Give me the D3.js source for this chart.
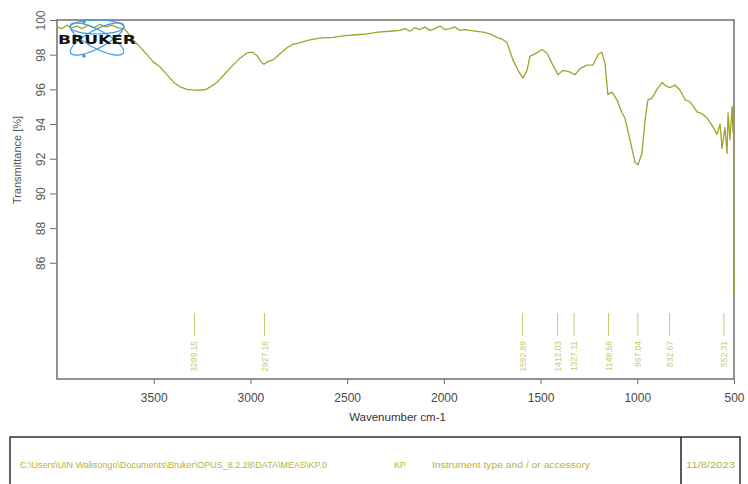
<!DOCTYPE html>
<html><head><meta charset="utf-8">
<script src="https://cdn.jsdelivr.net/npm/d3@7"></script>
<style>html,body{margin:0;padding:0;background:#fff;}svg{display:block;font-family:"Liberation Sans",Arial,sans-serif;}</style>
</head><body>
<svg id="c" width="748" height="484"></svg>
<script>
// Spectrum: [wavenumber cm-1, transmittance %]
const wavenumbers = [4000,3975,3949,3923,3897,3871,3840,3809,3778,3747,3716,3685,3654,3633,3602,3571,3535,3504,3468,3432,3396,3364,3328,3297,3261,3230,3199,3173,3132,3090,3054,3018,2992,2966,2946,2930,2910,2884,2847,2811,2780,2744,2692,2641,2573,2511,2449,2398,2341,2279,2227,2201,2175,2149,2124,2098,2072,2046,2020,1994,1968,1943,1917,1891,1865,1829,1798,1762,1725,1700,1674,1658,1643,1617,1591,1570,1555,1519,1493,1467,1441,1410,1384,1364,1348,1322,1296,1260,1229,1203,1183,1167,1152,1131,1105,1079,1064,1038,1012,996,976,960,945,924,898,872,852,831,805,779,753,728,691,665,640,609,588,572,562,547,536,531,521,510,505,502.5,500];
const transmittance = [99.6,99.5,99.7,99.55,99.65,99.5,99.7,99.55,99.75,99.6,99.7,99.55,99.5,99.25,98.8,98.45,98.0,97.6,97.3,96.85,96.4,96.15,96.0,95.97,95.95,96.0,96.2,96.4,96.9,97.4,97.8,98.1,98.15,97.95,97.6,97.45,97.6,97.7,98.05,98.4,98.6,98.7,98.85,98.95,99.0,99.1,99.15,99.2,99.3,99.35,99.4,99.5,99.35,99.55,99.45,99.6,99.4,99.5,99.65,99.45,99.5,99.6,99.4,99.45,99.4,99.35,99.3,99.2,99.0,98.9,98.7,98.2,97.7,97.1,96.65,97.1,97.9,98.1,98.3,98.1,97.5,96.85,97.1,97.05,97.0,96.85,97.2,97.4,97.4,98.0,98.15,97.5,95.7,95.85,95.4,94.65,94.35,93.1,91.8,91.65,92.3,94.2,95.4,95.5,96.0,96.4,96.2,96.1,96.25,95.95,95.4,95.3,94.7,94.6,94.35,93.85,93.4,94.0,92.6,93.8,92.3,94.65,93.1,95.0,93.5,95.0,84.2];
const xTicks = [3500,3000,2500,2000,1500,1000,500];
const yTicks = [100,98,96,94,92,90,88,86];
const peaks = [3289.15,2927.16,1592.89,1412.03,1327.11,1148.58,997.04,832.67,552.31];
const peakLabels = ["3289.15","2927.16","1592.89","1412.03","1327.11","1148.58","997.04","832.67","552.31"];
const footerTexts = ["C:\\Users\\UIN Walisongo\\Documents\\Bruker\\OPUS_8.2.28\\DATA\\MEAS\\KP.0","KP","Instrument type and / or accessory","11/8/2023"];

const svg = d3.select("#c");
const L=57,R=734,T=20,B=379;
const x = d3.scaleLinear().domain([4000,500]).range([L,R]);
const y = d3.scaleLinear().domain([79.3,100]).range([B,T]);

const axisCol="#6f6f6f", textCol="#4a4a4a";
const lineCol="#a3a02c", peakCol="#cbc96a", footCol="#b8b23a";

// x axis
const gx = svg.append("g").attr("transform",`translate(0,${B})`)
  .call(d3.axisBottom(x).tickValues(xTicks).tickSize(5).tickSizeOuter(0).tickFormat(d3.format("d")));
gx.select(".domain").remove();
gx.selectAll(".tick line").attr("stroke",axisCol);
gx.selectAll(".tick text").attr("fill",textCol).attr("font-size",12).attr("dy","1.25em")
  .attr("font-family","Liberation Sans, Arial, sans-serif");

// y axis
const gy = svg.append("g").attr("transform",`translate(${L},0)`)
  .call(d3.axisLeft(y).tickValues(yTicks).tickSize(7).tickSizeOuter(0));
gy.select(".domain").remove();
gy.selectAll(".tick line").attr("stroke",axisCol);
gy.selectAll(".tick text").attr("fill","#5a5a5a").attr("font-size",12)
  .attr("font-family","Liberation Sans, Arial, sans-serif")
  .attr("x",null).attr("dy",null)
  .attr("text-anchor","middle")
  .attr("transform","translate(-16,0) rotate(-90)")
  .attr("y",4);

// frame
svg.append("rect").attr("x",L).attr("y",T).attr("width",R-L).attr("height",B-T)
  .attr("fill","none").attr("stroke",axisCol).attr("stroke-width",1.5);

// axis titles
svg.append("text").attr("x",(L+R)/2+2).attr("y",421).attr("text-anchor","middle")
  .attr("font-size",11.5).attr("fill","#333").text("Wavenumber cm-1");
svg.append("text").attr("transform","translate(21,160) rotate(-90)").attr("text-anchor","middle")
  .attr("font-size",11).attr("fill","#555").text("Transmittance [%]");

// peak markers
const pk = svg.append("g");
peaks.forEach((p,i)=>{
  const px = x(p);
  pk.append("line").attr("x1",px).attr("x2",px).attr("y1",313).attr("y2",336)
    .attr("stroke",peakCol).attr("stroke-width",1);
  pk.append("text").attr("transform",`translate(${px+3},341) rotate(-90)`)
    .attr("text-anchor","end").attr("font-size",8.5).attr("fill",peakCol).text(peakLabels[i]);
});

// spectrum
const data = wavenumbers.map((w,i)=>[w,transmittance[i]]);
svg.append("path").datum(data)
  .attr("d",d3.line().x(d=>x(d[0])).y(d=>y(d[1])))
  .attr("fill","none").attr("stroke",lineCol).attr("stroke-width",1.3).attr("stroke-linejoin","round");

// Bruker logo
const lg = svg.append("g");
const blue="#3d9be0";
lg.append("ellipse").attr("cx",97).attr("cy",27).attr("rx",27).attr("ry",7)
  .attr("fill","none").attr("stroke",blue).attr("stroke-width",1.2);
lg.append("ellipse").attr("transform","translate(97,39) rotate(28)").attr("rx",30).attr("ry",9)
  .attr("fill","none").attr("stroke",blue).attr("stroke-width",1.2);
lg.append("ellipse").attr("transform","translate(97,39) rotate(-28)").attr("rx",30).attr("ry",9)
  .attr("fill","none").attr("stroke",blue).attr("stroke-width",1.2);
lg.append("circle").attr("cx",84).attr("cy",22).attr("r",1.8).attr("fill",blue);
lg.append("circle").attr("cx",84).attr("cy",56).attr("r",1.8).attr("fill",blue);
lg.append("text").attr("x",58).attr("y",44).attr("font-size",12.5).attr("font-weight","bold")
  .attr("font-family","DejaVu Sans, sans-serif").attr("fill","#111")
  .attr("textLength",78).attr("lengthAdjust","spacingAndGlyphs").text("BRUKER");

// footer
svg.append("rect").attr("x",10).attr("y",437).attr("width",730).attr("height",60)
  .attr("fill","none").attr("stroke","#333").attr("stroke-width",1.5);
svg.append("line").attr("x1",681).attr("x2",681).attr("y1",437).attr("y2",484)
  .attr("stroke","#222").attr("stroke-width",1.5);
const fx=[20,394,432,686], fw=[307,12,158,49];
footerTexts.forEach((t,i)=>{
  svg.append("text").attr("x",fx[i]).attr("y",468).attr("font-size",8.5).attr("fill",footCol)
    .attr("textLength",fw[i]).attr("lengthAdjust","spacingAndGlyphs").text(t);
});
</script>
</body></html>
